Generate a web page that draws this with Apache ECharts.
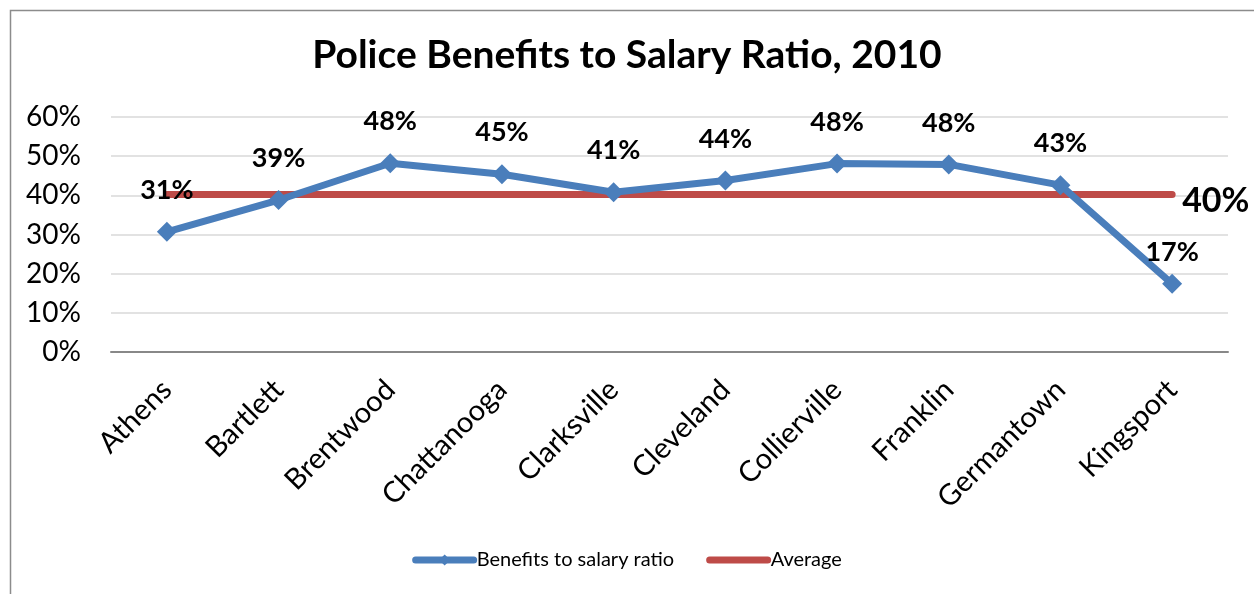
<!DOCTYPE html>
<html>
<head>
<meta charset="utf-8">
<script src="https://cdn.jsdelivr.net/npm/echarts@6/dist/echarts.min.js"></script>
<style>
  html, body { margin: 0; padding: 0; background: #fff; }
  #chart { width: 1254px; height: 594px; }
</style>
</head>
<body>
<div id="chart"></div>
<script>
const cities = ['Athens', 'Bartlett', 'Brentwood', 'Chattanooga', 'Clarksville', 'Cleveland',
  'Collierville', 'Franklin', 'Germantown', 'Kingsport']
const ratio = [30.7, 38.8, 48.2, 45.4, 40.8, 43.8, 48.1, 47.9, 42.6, 17.4]
const ratioLabels = ['31%', '39%', '48%', '45%', '41%', '44%', '48%', '48%', '43%', '17%']
const average = [40.2, 40.2, 40.2, 40.2, 40.2, 40.2, 40.2, 40.2, 40.2, 40.2]
const yTicks = [0, 10, 20, 30, 40, 50, 60]

const font = 'Lato, "Open Sans", sans-serif'

// last point sits closer to its label in the original
const ratioData = ratio.map((v, i) => i === ratio.length - 1 ? { value: v, label: { distance: 8 } } : v)

const chart = echarts.init(document.getElementById('chart'))
const option = {
  animation: false,
  color: ['#4a7ebb', '#be4b48'],
  textStyle: { fontFamily: font },
  graphic: [
    {
      type: 'rect',
      left: 8,
      top: 8,
      shape: { width: 1400, height: 800 },
      style: { fill: 'none', stroke: '#8c8c8c', lineWidth: 1.5 },
      z: -1
    }
  ],
  title: {
    text: 'Police Benefits to Salary Ratio, 2010',
    left: 'center',
    top: 31,
    textStyle: { fontFamily: font, fontSize: 39, fontWeight: 'bold', color: '#000' }
  },
  legend: {
    bottom: 19,
    left: 'center',
    itemWidth: 58,
    itemHeight: 14,
    itemGap: 32,
    lineStyle: { width: 7, cap: 'round' },
    textStyle: { fontFamily: font, fontSize: 20, color: '#000', padding: [0, 0, 0, -2] },
    data: [
      { name: 'Benefits to salary ratio' },
      { name: 'Average', itemStyle: { opacity: 0 } }
    ]
  },
  grid: {
    left: 111,
    right: 26,
    top: 117,
    bottom: 242
  },
  xAxis: {
    type: 'category',
    data: cities,
    boundaryGap: true,
    axisLine: { lineStyle: { color: '#888', width: 2 } },
    axisTick: { show: false },
    axisLabel: {
      rotate: 45,
      interval: 0,
      margin: 33,
      fontFamily: font,
      fontSize: 29,
      color: '#000'
    }
  },
  yAxis: {
    type: 'value',
    min: yTicks[0],
    max: yTicks[yTicks.length - 1],
    interval: 10,
    axisLine: { show: false },
    axisTick: { show: false },
    splitLine: { lineStyle: { color: '#d9d9d9', width: 1.5 } },
    axisLabel: {
      formatter: '{value}%',
      margin: 30,
      fontFamily: font,
      fontSize: 28,
      color: '#000'
    }
  },
  series: [
    {
      name: 'Average',
      type: 'line',
      data: average,
      symbol: 'none',
      lineStyle: { width: 7, cap: 'round', color: '#be4b48' },
      z: 2,
      endLabel: {
        show: true,
        formatter: '40%',
        distance: 10,
        offset: [0, 6],
        fontFamily: font,
        fontSize: 34,
        fontWeight: 'bold',
        color: '#000'
      }
    },
    {
      name: 'Benefits to salary ratio',
      type: 'line',
      data: ratioData,
      symbol: 'diamond',
      symbolSize: 20,
      lineStyle: { width: 7, color: '#4a7ebb' },
      itemStyle: { color: '#4a7ebb' },
      z: 3,
      label: {
        show: true,
        position: 'top',
        distance: 18,
        formatter: p => ratioLabels[p.dataIndex],
        fontFamily: font,
        fontSize: 27,
        fontWeight: 'bold',
        color: '#000'
      }
    }
  ]
}
chart.setOption(option)
</script>
</body>
</html>
